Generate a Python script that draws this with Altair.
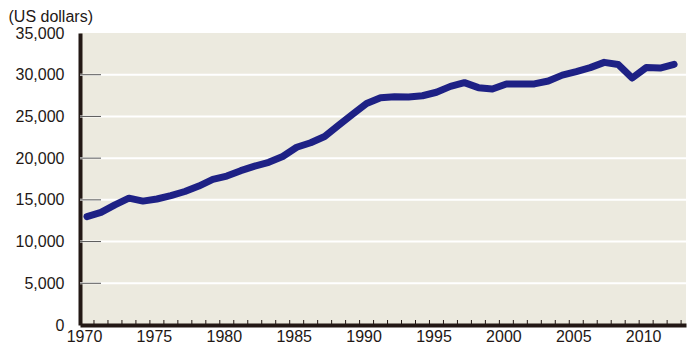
import altair as alt
import pandas as pd

years = list(range(1970, 2013))
income = [13000, 13500, 14400, 15200, 14850, 15100, 15500, 16000, 16650, 17450,
          17850, 18500, 19050, 19500, 20200, 21300, 21850, 22600, 23950, 25250,
          26550, 27250, 27350, 27330, 27480, 27900, 28600, 29050, 28450, 28280,
          28880, 28880, 28900, 29250, 29950, 30380, 30850, 31480, 31230, 29600,
          30850, 30800, 31250]
y_ticks = [0, 5000, 10000, 15000, 20000, 25000, 30000, 35000]
x_labels = [1970, 1975, 1980, 1985, 1990, 1995, 2000, 2005, 2010]
year_ticks = list(range(1970, 2014))

FONT = "Liberation Sans"
FS = 16
W, H = 606, 292

df = pd.DataFrame({"year": [y + 0.5 for y in years], "value": income})
grid_df = pd.DataFrame({"v": y_ticks[1:-1]})
tick_df = pd.DataFrame({"t": year_ticks})

xscale = alt.Scale(domain=[1970, 2013.35], nice=False, zero=False)
yscale = alt.Scale(domain=[0, 35000], nice=False)

xaxis = alt.Axis(values=x_labels, format="d", ticks=False, grid=False,
                 domainColor="#231815", domainWidth=4, labelFont=FONT,
                 labelFontSize=FS, labelColor="#231815", labelPadding=3,
                 labelOffset=4, title=None, labelFlush=False)
yaxis = alt.Axis(values=y_ticks, format=",d", ticks=False, grid=False,
                 domainColor="#231815", domainWidth=4, labelFont=FONT,
                 labelFontSize=FS, labelColor="#231815", labelPadding=16,
                 title="(US dollars)", titleAngle=0, titleAlign="left",
                 titleBaseline="alphabetic", titleX=-72, titleY=-12,
                 titleFont=FONT, titleFontSize=FS, titleFontWeight="normal",
                 titleColor="#231815")

grid = alt.Chart(grid_df).mark_rule(color="white", strokeWidth=2).encode(
    y=alt.Y("v:Q", scale=yscale, axis=yaxis),
)
ytick = alt.Chart(grid_df).mark_rule(color="#555555", strokeWidth=1).encode(
    y=alt.Y("v:Q", scale=yscale),
    x=alt.value(0), x2=alt.value(21),
)
xtick = alt.Chart(tick_df).mark_rule(color="#231815", strokeWidth=1).encode(
    x=alt.X("t:Q", scale=xscale, axis=xaxis),
    y=alt.value(H), y2=alt.value(H - 5),
)
line = alt.Chart(df).mark_line(color="#1E2185", strokeWidth=7,
                               strokeCap="round", strokeJoin="round").encode(
    x=alt.X("year:Q", scale=xscale),
    y=alt.Y("value:Q", scale=yscale),
)

chart = alt.layer(grid, ytick, xtick, line).properties(
    width=W, height=H,
    autosize=alt.AutoSizeParams(type="none"),
    padding={"left": 72, "top": 25, "right": 6, "bottom": 27},
    background="white",
).configure_view(fill="#ECEADF", stroke=None)

chart.save("out.html", embed_options={"renderer": "svg", "actions": False})
